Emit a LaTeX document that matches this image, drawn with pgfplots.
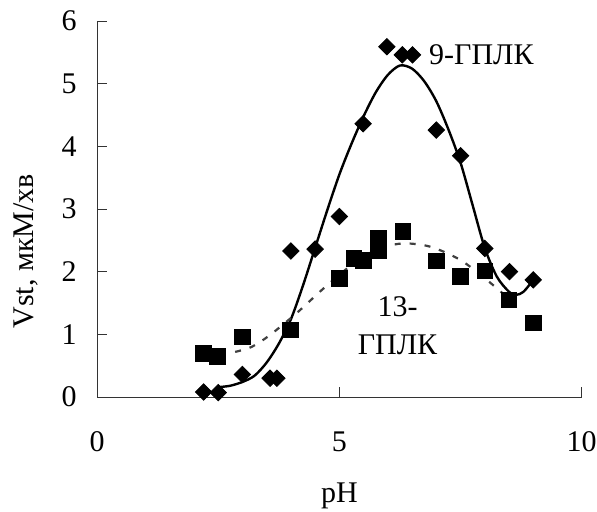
\documentclass[border=0pt]{standalone}
\usepackage{fontspec}
\setmainfont{Liberation Serif}
\usepackage{pgfplots}
\pgfplotsset{compat=1.18}
\begin{document}
\fontsize{15}{18}\selectfont
\begin{tikzpicture}
\path[use as bounding box] (0,0) rectangle (298.5pt,255.5pt);
\begin{axis}[
  at={(48.5pt,57pt)}, anchor=origin,
  scale only axis, width=242.35pt, height=188pt,
  xmin=0, xmax=10, ymin=0, ymax=6,
  axis lines*=left,
  axis line style={line width=0.5pt, black!80},
  xtick={0,5,10}, ytick={0,1,2,3,4,5,6},
  tick align=inside, major tick length=5pt,
  tick style={line width=0.5pt, black!80},
  xticklabel style={yshift=-12pt},
  yticklabel style={xshift=-5pt},
  /pgf/number format/assume math mode=true,
  ticklabel style={font=\fontsize{15}{18}\selectfont},
  label style={font=\fontsize{15}{18}\selectfont},
  xlabel={pH}, ylabel={Vst, мкМ/хв},
  xlabel style={at={(axis description cs:0.5,-0.262)}, anchor=center},
  ylabel style={at={(axis description cs:-0.1465,0.388)}, anchor=center, rotate=0},
  clip=false,
]
% 9-GPLK data
\addplot[only marks, mark=square*, mark size=2.9pt, mark options={rotate=45, fill=black, draw=black}] coordinates {
(2.2,0.08) (2.5,0.07) (3.0,0.36) (3.57,0.30) (3.71,0.30) (4.0,2.33) (4.5,2.36)
(5.0,2.88) (5.49,4.36) (5.98,5.59) (6.3,5.46) (6.51,5.46) (7.0,4.26) (7.5,3.85)
(8.0,2.37) (8.51,2.0) (9.0,1.87)};
% 13-GPLK data
\addplot[only marks, mark=square*, mark size=3.9pt, mark options={fill=black, draw=black}] coordinates {
(2.2,0.70) (2.49,0.65) (3.0,0.96) (3.99,1.07) (5.0,1.89) (5.3,2.21) (5.5,2.18)
(5.8,2.53) (5.8,2.34) (6.31,2.64) (7.0,2.17) (7.5,1.92) (8.0,2.01) (8.5,1.55) (9.0,1.18)};
% solid fit
\addplot[smooth, line width=1.2pt, black, no marks] coordinates {
(2.54,0.16) (2.75,0.18) (3.0,0.24) (3.25,0.34) (3.5,0.55) (3.75,0.85) (4.0,1.24)
(4.25,1.78) (4.5,2.38) (4.75,2.98) (5.0,3.55) (5.25,4.04) (5.5,4.48) (5.75,4.86)
(6.0,5.14) (6.25,5.29) (6.5,5.24) (6.75,5.04) (7.0,4.72) (7.25,4.27) (7.5,3.74)
(7.75,3.06) (8.0,2.38) (8.25,1.92) (8.5,1.68) (8.65,1.63) (8.8,1.68) (8.97,1.84)};
% dotted fit
\addplot[smooth, line width=1.1pt, black!75, dash pattern=on 3pt off 4.5pt, no marks] coordinates {
(2.85,0.72) (3.19,0.80) (3.57,0.99) (4.12,1.34) (4.67,1.73) (5.29,2.13) (5.77,2.35)
(6.29,2.45) (6.87,2.40) (7.49,2.19) (8.04,1.87) (8.45,1.60)};
\node[anchor=center] at (axis cs:7.93,5.46) {9-ГПЛК};
\node[anchor=center] at (axis cs:6.2,1.44) {13-};
\node[anchor=center] at (axis cs:6.2,0.83) {ГПЛК};
\end{axis}
\end{tikzpicture}
\end{document}
